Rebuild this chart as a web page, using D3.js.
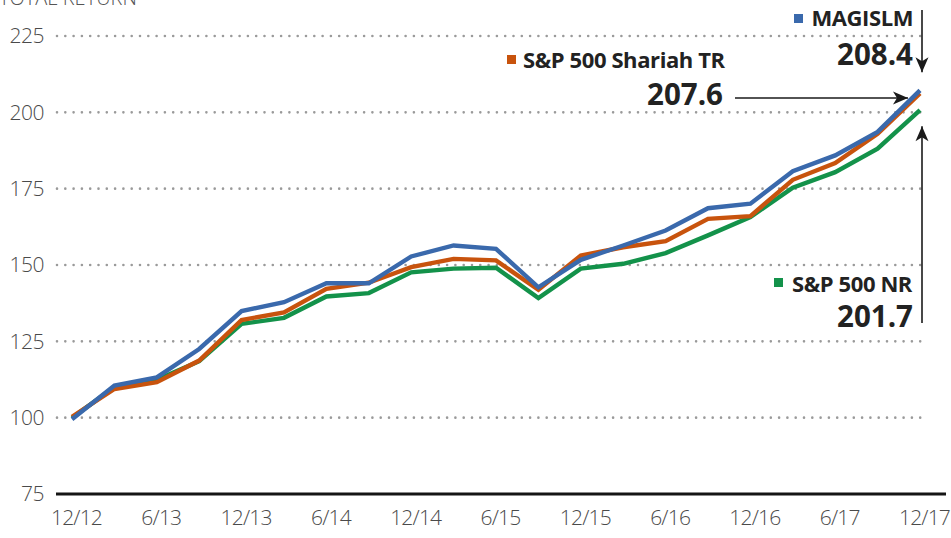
<!DOCTYPE html>
<html>
<head>
<meta charset="utf-8">
<script src="https://cdn.jsdelivr.net/npm/d3@7"></script>
<style>
  body { margin: 0; background: #fff; }
  svg { display: block; }
</style>
</head>
<body>
<div id="wrapper"></div>
<script>
// quarterly data, 12/12 .. 12/17
const quarters = ["12/12","3/13","6/13","9/13","12/13","3/14","6/14","9/14","12/14","3/15","6/15","9/15",
                  "12/15","3/16","6/16","9/16","12/16","3/17","6/17","9/17","12/17"];
const tickLabels = ["12/12","6/13","12/13","6/14","12/14","6/15","12/15","6/16","12/16","6/17","12/17"];
const yTicks = [75, 100, 125, 150, 175, 200, 225];

const magislm = [99.5, 110.5, 113.2, 122.5, 134.9, 137.8, 144.0, 144.0, 152.8, 156.4, 155.3, 142.7,
                 151.7, 156.4, 161.3, 168.6, 170.1, 180.7, 185.9, 193.6, 207.2];
const shariah = [100.3, 109.4, 111.6, 118.7, 132.0, 134.5, 142.2, 144.2, 149.3, 152.0, 151.5, 141.9,
                 153.1, 155.8, 157.8, 165.1, 166.0, 177.9, 183.4, 193.0, 206.2];
const spNR    = [100.0, 110.0, 112.4, 118.5, 130.7, 132.7, 139.7, 140.8, 147.6, 148.8, 149.1, 139.2,
                 148.8, 150.4, 153.9, 159.7, 165.7, 175.3, 180.4, 188.1, 200.7];

const seriesNames = ["S&P 500 NR", "S&P 500 Shariah TR", "MAGISLM"];
const endLabels = ["201.7", "207.6", "208.4"];
const colors = {"MAGISLM": "#3a69ac", "S&P 500 Shariah TR": "#c8530d", "S&P 500 NR": "#13924a"};

const dimensions = { width: 951, height: 538 };

const svg = d3.select("#wrapper").append("svg")
    .attr("width", dimensions.width)
    .attr("height", dimensions.height);

const xScale = d3.scalePoint()
    .domain(quarters)
    .range([72, 920]);

const yScale = d3.scaleLinear()
    .domain([75, 225])
    .range([494, 36]);

const tickFont = "'Open Sans', 'DejaVu Sans', sans-serif";

// title (cut off at the top, as in the source)
svg.append("text")
    .attr("x", -1)
    .attr("y", 5)
    .attr("fill", "#555")
    .style("font-family", tickFont)
    .style("font-weight", 300)
    .style("font-size", "20px")
    .text("TOTAL RETURN");

// gridlines
svg.append("g")
  .selectAll("line")
  .data(yTicks.filter(d => d > 75))
  .join("line")
    .attr("x1", 57)
    .attr("x2", 921)
    .attr("y1", d => yScale(d))
    .attr("y2", d => yScale(d))
    .attr("stroke", "#9a9a9a")
    .attr("stroke-width", 2.6)
    .attr("stroke-linecap", "round")
    .attr("stroke-dasharray", "0 8.3");

// y labels
svg.append("g")
  .selectAll("text")
  .data(yTicks)
  .join("text")
    .attr("x", 44)
    .attr("y", d => yScale(d))
    .attr("dy", "0.35em")
    .attr("text-anchor", "end")
    .attr("fill", "#4a4a4a")
    .style("font-family", tickFont)
    .style("font-weight", 300)
    .style("font-size", "21px")
    .style("letter-spacing", "-0.5px")
    .text(d => d);

// bottom axis
const xAxisGenerator = d3.axisBottom(xScale)
    .tickValues(tickLabels)
    .tickSize(0)
    .tickPadding(16);

const xAxis = svg.append("g")
    .attr("transform", `translate(0, ${yScale(75)})`)
    .call(xAxisGenerator);

xAxis.select(".domain").remove();
xAxis.selectAll("text")
    .attr("fill", "#4a4a4a")
    .attr("dx", 4)
    .style("font-family", tickFont)
    .style("font-weight", 300)
    .style("font-size", "21px")
    .style("letter-spacing", "-0.8px");

svg.append("line")
    .attr("x1", 56)
    .attr("x2", 946)
    .attr("y1", yScale(75))
    .attr("y2", yScale(75))
    .attr("stroke", "#151515")
    .attr("stroke-width", 3);

// lines
const lineGenerator = d3.line()
    .x((d, i) => xScale(quarters[i]))
    .y(d => yScale(d));

const seriesData = [spNR, shariah, magislm];

svg.append("g")
  .selectAll("path")
  .data(seriesData)
  .join("path")
    .attr("d", d => lineGenerator(d))
    .attr("fill", "none")
    .attr("stroke", (d, i) => colors[seriesNames[i]])
    .attr("stroke-width", 4.4)
    .attr("stroke-linejoin", "miter");

// arrows
const defs = svg.append("defs");
defs.append("marker")
    .attr("id", "arrow")
    .attr("viewBox", "-16 -8 18 16")
    .attr("refX", 0)
    .attr("refY", 0)
    .attr("markerWidth", 18)
    .attr("markerHeight", 16)
    .attr("markerUnits", "userSpaceOnUse")
    .attr("orient", "auto")
  .append("path")
    .attr("d", "M0,0 L-15,-6.5 L-11,0 L-15,6.5 Z")
    .attr("fill", "#1a1a1a");

const xEnd = xScale(quarters[quarters.length - 1]);
const last = arr => arr[arr.length - 1];

function arrow(x1, y1, x2, y2) {
  svg.append("line")
      .attr("x1", x1).attr("y1", y1)
      .attr("x2", x2).attr("y2", y2)
      .attr("stroke", "#1a1a1a")
      .attr("stroke-width", 1.6)
      .attr("marker-end", "url(#arrow)");
}

arrow(xEnd + 2, 10, xEnd + 2, yScale(last(magislm)) - 18);
arrow(735, 98, xEnd - 12, 98);
arrow(xEnd + 2, 323, xEnd + 2, yScale(last(spNR)) + 16);

// legend labels
const legendFont = "'Open Sans', 'DejaVu Sans', sans-serif";

function legendItem(name, sqX, sqY, tx, ty, anchor) {
  svg.append("rect")
      .attr("x", sqX).attr("y", sqY)
      .attr("width", 9).attr("height", 9)
      .attr("fill", colors[name]);
  svg.append("text")
      .attr("x", tx).attr("y", ty)
      .attr("text-anchor", anchor)
      .attr("fill", "#222")
      .style("font-family", legendFont)
      .style("font-weight", 700)
      .style("font-size", "22px")
      .style("letter-spacing", "-0.4px")
      .text(name);
}

function valueLabel(text, x, y) {
  svg.append("text")
      .attr("x", x).attr("y", y)
      .attr("text-anchor", "end")
      .attr("fill", "#222")
      .style("font-family", legendFont)
      .style("font-weight", 700)
      .style("font-size", "29.5px")
      .text(text);
}

legendItem("MAGISLM", 794, 14, 913, 26, "end");
valueLabel(endLabels[2], 913, 65);

legendItem("S&P 500 Shariah TR", 507, 55, 523, 68, "start");
valueLabel(endLabels[1], 723, 105);

legendItem("S&P 500 NR", 774, 278, 912, 292, "end");
valueLabel(endLabels[0], 913, 327);
</script>
</body>
</html>
